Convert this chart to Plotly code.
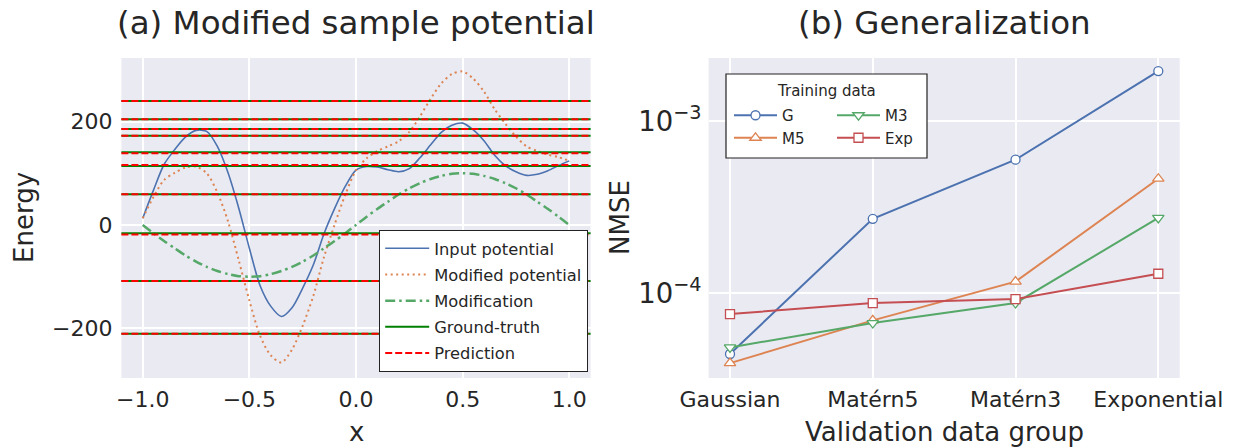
import plotly.graph_objects as go

# ---------------- data: panel (a) ----------------
x_grid = [-1.0, -0.95, -0.9, -0.85, -0.8, -0.75, -0.7, -0.65, -0.6, -0.55,
          -0.5, -0.45, -0.4, -0.35, -0.3, -0.25, -0.2, -0.15, -0.1, -0.05,
          0.0, 0.05, 0.1, 0.15, 0.2, 0.25, 0.3, 0.35, 0.4, 0.45,
          0.5, 0.55, 0.6, 0.65, 0.7, 0.75, 0.8, 0.85, 0.9, 0.95, 1.0]

input_potential = [13, 67, 117, 146, 170, 183, 181, 152, 101, 33,
                   -45, -117, -157, -177, -160, -122, -77, -17, 32, 75,
                   106, 113, 112, 107, 103, 109, 130, 155, 179, 193,
                   197, 184, 163, 135, 115, 103, 96, 98, 105, 115, 124]

modification = [0, -16, -31, -45, -59, -71, -81, -89, -95, -99,
                -100, -99, -95, -89, -81, -71, -59, -45, -31, -16,
                0, 16, 31, 45, 59, 71, 81, 89, 95, 99,
                100, 99, 95, 89, 81, 71, 59, 45, 31, 16, 0]

modified_potential = [13, 54, 87, 101, 111, 113, 100, 63, 7, -68,
                      -146, -214, -252, -266, -241, -195, -137, -62, 1, 59,
                      106, 129, 143, 152, 162, 180, 210, 244, 274, 292,
                      297, 283, 258, 224, 196, 171, 152, 143, 136, 131, 124]

ground_truth_levels = [239.6, 204.3, 185.5, 172.6, 140.5, 114.3, 59.3, -16.0, -108.2, -210.6]
prediction_levels = [239.6, 204.3, 185.5, 172.6, 138.6, 116.0, 59.3, -18.2, -108.2, -210.6]

# ---------------- data: panel (b) ----------------
validation_groups = ["Gaussian", "Matérn5", "Matérn3", "Exponential"]
training_names = ["G", "M5", "M3", "Exp"]
nmse_G = [4.45e-5, 2.71e-4, 5.97e-4, 1.95e-3]
nmse_M5 = [3.94e-5, 6.97e-5, 1.17e-4, 4.63e-4]
nmse_M3 = [4.86e-5, 6.73e-5, 8.79e-5, 2.74e-4]
nmse_Exp = [7.59e-5, 8.79e-5, 9.27e-5, 1.30e-4]

# ---------------- style ----------------
W, H = 1234, 448
FONT = "DejaVu Sans"
TXT = "#262626"
BG = "#EAEAF2"
BLUE, ORANGE, GREEN, RED = "#4C72B0", "#DD8452", "#55A868", "#C44E52"


def px_x(p):
    return p / W


def px_y(p):
    return 1 - p / H


fig = go.Figure()

# panel (a) curves
fig.add_trace(go.Scatter(x=x_grid, y=input_potential, mode="lines", name="Input potential",
                         line=dict(color=BLUE, width=1.6, shape="spline", smoothing=0.8),
                         xaxis="x", yaxis="y", legend="legend", legendgroup="a1"))
fig.add_trace(go.Scatter(x=x_grid, y=modified_potential, mode="lines", name="Modified potential",
                         line=dict(color=ORANGE, width=2, dash="2px,3.5px", shape="spline", smoothing=0.8),
                         xaxis="x", yaxis="y", legend="legend", legendgroup="a2"))
fig.add_trace(go.Scatter(x=x_grid, y=modification, mode="lines", name="Modification",
                         line=dict(color=GREEN, width=2.5, dash="10px,4px,2.5px,4px", shape="spline", smoothing=0.8),
                         xaxis="x", yaxis="y", legend="legend", legendgroup="a3"))
fig.add_trace(go.Scatter(x=[None], y=[None], mode="lines", name="Ground-truth",
                         line=dict(color="green", width=2), xaxis="x", yaxis="y",
                         legend="legend", legendgroup="a4"))
fig.add_trace(go.Scatter(x=[None], y=[None], mode="lines", name="Prediction",
                         line=dict(color="red", width=2, dash="7px,3px"), xaxis="x", yaxis="y",
                         legend="legend", legendgroup="a5"))

shapes = []
for v in ground_truth_levels:
    shapes.append(dict(type="line", xref="x domain", yref="y", x0=0, x1=1, y0=v, y1=v,
                       line=dict(color="green", width=2), layer="above"))
for v in prediction_levels:
    shapes.append(dict(type="line", xref="x domain", yref="y", x0=0, x1=1, y0=v, y1=v,
                       line=dict(color="red", width=2, dash="7px,3px"), layer="above"))

# panel (b)
specs = [
    ("G", nmse_G, BLUE, "circle", 9, "legend2"),
    ("M5", nmse_M5, ORANGE, "triangle-up", 10, "legend2"),
    ("M3", nmse_M3, GREEN, "triangle-down", 10, "legend3"),
    ("Exp", nmse_Exp, RED, "square", 9, "legend3"),
]
for name, vals, col, sym, sz, lg in specs:
    fig.add_trace(go.Scatter(x=validation_groups, y=vals, mode="lines+markers", name=name,
                             line=dict(color=col, width=2),
                             marker=dict(symbol=sym, size=sz, color="white",
                                         line=dict(color=col, width=1.3)),
                             xaxis="x2", yaxis="y2", legend=lg))

# legend box for panel (b)
shapes.append(dict(type="rect", xref="paper", yref="paper",
                   x0=px_x(726), x1=px_x(927), y0=px_y(158), y1=px_y(74),
                   fillcolor="white", line=dict(color="#222222", width=1.2), layer="above"))

axis_common = dict(showline=False, zeroline=False, ticks="", gridcolor="white", gridwidth=1.5,
                   automargin=False,
                   tickfont=dict(family=FONT, size=22, color=TXT))

annotations = [
    dict(text="(a) Modified sample potential", x=px_x(356), y=px_y(23), xref="paper", yref="paper",
         showarrow=False, font=dict(family=FONT, size=32.5, color=TXT), xanchor="center", yanchor="middle"),
    dict(text="(b) Generalization", x=px_x(944), y=px_y(23), xref="paper", yref="paper",
         showarrow=False, font=dict(family=FONT, size=32.5, color=TXT), xanchor="center", yanchor="middle"),
    dict(text="Energy", x=px_x(24), y=px_y(218), xref="paper", yref="paper", textangle=-90,
         showarrow=False, font=dict(family=FONT, size=26, color=TXT), xanchor="center", yanchor="middle"),
    dict(text="x", x=px_x(356), y=px_y(432), xref="paper", yref="paper",
         showarrow=False, font=dict(family=FONT, size=26, color=TXT), xanchor="center", yanchor="middle"),
    dict(text="NMSE", x=px_x(620), y=px_y(218), xref="paper", yref="paper", textangle=-90,
         showarrow=False, font=dict(family=FONT, size=26, color=TXT), xanchor="center", yanchor="middle"),
    dict(text="Validation data group", x=px_x(944), y=px_y(432), xref="paper", yref="paper",
         showarrow=False, font=dict(family=FONT, size=26, color=TXT), xanchor="center", yanchor="middle"),
    dict(text="Training data", x=px_x(826), y=px_y(91), xref="paper", yref="paper",
         showarrow=False, font=dict(family=FONT, size=15, color=TXT), xanchor="center", yanchor="middle"),
]

fig.update_layout(
    template="none",
    width=W, height=H,
    margin=dict(l=0, r=0, t=0, b=0, autoexpand=False),
    paper_bgcolor="white", plot_bgcolor=BG,
    font=dict(family=FONT, color=TXT),
    xaxis=dict(domain=[px_x(121.4), px_x(590.6)], range=[-1.1, 1.1], tickvals=[-1.0, -0.5, 0.0, 0.5, 1.0],
               tickformat=".1f", anchor="y", ticklabelstandoff=6, **axis_common),
    yaxis=dict(domain=[px_y(378), px_y(58)], range=[-296, 323], tickvals=[-200, 0, 200],
               anchor="x", ticklabelstandoff=8, **axis_common),
    xaxis2=dict(domain=[px_x(708.6), px_x(1179.7)], type="category", categoryorder="array",
                categoryarray=validation_groups, range=[-0.15, 3.15], anchor="y2",
                ticklabelstandoff=6, **axis_common),
    yaxis2=dict(domain=[px_y(378), px_y(58)], type="log", range=[-4.491, -2.634], dtick=1,
                exponentformat="power", anchor="x2", ticklabelstandoff=6, **axis_common),
    legend=dict(x=px_x(588), y=px_y(372), xanchor="right", yanchor="bottom",
                bgcolor="white", bordercolor="#222222", borderwidth=1.2, itemwidth=44,
                font=dict(family=FONT, size=16.3, color=TXT), tracegroupgap=2),
    legend2=dict(x=px_x(729), y=px_y(99), xanchor="left", yanchor="top",
                 bgcolor="rgba(0,0,0,0)", borderwidth=0, itemwidth=43,
                 font=dict(family=FONT, size=15, color=TXT)),
    legend3=dict(x=px_x(832), y=px_y(99), xanchor="left", yanchor="top",
                 bgcolor="rgba(0,0,0,0)", borderwidth=0, itemwidth=43,
                 font=dict(family=FONT, size=15, color=TXT)),
    shapes=shapes,
    annotations=annotations,
)

fig.write_html("out.html")
